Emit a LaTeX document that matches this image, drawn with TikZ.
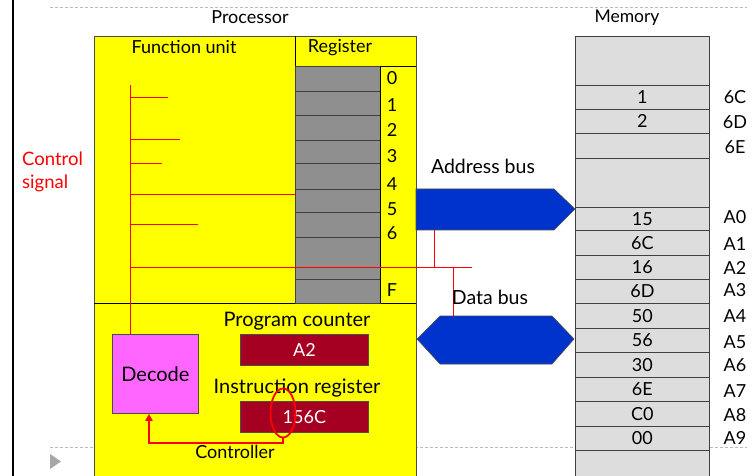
\documentclass[tikz,border=0pt]{standalone}
\usepackage{fontspec}
\setmainfont{Lato}
\usetikzlibrary{arrows.meta,shapes.geometric}
\definecolor{procyellow}{HTML}{FFFF00}
\definecolor{reggray}{HTML}{8F8F8F}
\definecolor{memgray}{HTML}{DDDDDD}
\definecolor{boxred}{HTML}{A50021}
\definecolor{decodepink}{HTML}{FF66FF}
\definecolor{busblue}{HTML}{0033CC}
\definecolor{sigred}{HTML}{FF0000}
\definecolor{rulegray}{HTML}{BBBBBB}
\tikzset{
  lbl/.style={inner sep=0pt, font=\fontsize{18}{20}\selectfont},
  biglbl/.style={inner sep=0pt, font=\fontsize{20}{22}\selectfont},
  regcell/.style={draw=black!75, fill=reggray, line width=0.8pt, inner sep=0pt, anchor=north west, minimum width=85pt},
  memcell/.style={draw=black!75, fill=memgray, line width=0.8pt, inner sep=0pt, anchor=north west, minimum width=134pt, font=\fontsize{18}{20}\selectfont},
  valbox/.style={draw=black!70, fill=boxred, text=white, line width=0.8pt, inner sep=0pt, anchor=north west, minimum width=128pt, minimum height=31pt, font=\fontsize{18}{20}\selectfont},
  sig/.style={draw=sigred, line width=0.9pt},
  ctrl/.style={draw=sigred, line width=2pt, -{Triangle[length=7pt,width=7pt]}},
  bus/.style={fill=busblue, draw=black!70, line width=0.6pt},
  guide/.style={draw=rulegray, line width=0.6pt, dash pattern=on 3pt off 2pt},
}
\begin{document}
\begin{tikzpicture}[x=1pt, y=-1pt]
\useasboundingbox (0,0) rectangle (756,476);
\fill[white] (0,0) rectangle (756,476);

% slide frame: guide lines, left rule and the bullet triangle
\draw[guide] (50,7) -- (747,7);
\draw[guide] (50,447) -- (747,447);
\draw[black, line width=2pt] (13,0) -- (13,476);
\fill[black!35] (50,454) -- (61,461.5) -- (50,469) -- cycle;

% headings
\node[lbl] (proc) at (250,17) {Processor};
\node[lbl, font=\fontsize{17.5}{19}\selectfont] (mem) at (627,17.5) {Memory};

% processor body
\node[draw=black!70, fill=procyellow, line width=0.8pt, inner sep=0pt, anchor=north west,
      minimum width=322pt, minimum height=440pt] (cpu) at (94,36) {};
\draw[black, line width=0.8pt] (295,36) -- (295,66) -- (416,66);
\draw[black, line width=0.8pt] (94,303) -- (416,303);
\node[lbl] (fu) at (184,47) {Function unit};
\node[lbl] (regh) at (340,48) {Register};

% register file
\foreach \top/\h/\nm in {66/25/r0, 91/24/r1, 115/25/r2, 140/23/r3, 163/26/r4, 189/23/r5, 212/25/r6, 237/42/rx, 279/24/rf}
  \node[regcell, minimum height=\h pt] (\nm) at (295,\top) {};
\draw[black, line width=0.8pt] (380,66) -- (380,303);
\foreach \y/\t/\nm in {78/0/l0, 105/1/l1, 130/2/l2, 156/3/l3, 184/4/l4, 209/5/l5, 233/6/l6, 290/F/lf}
  \node[lbl] (\nm) at (392,\y) {\t};

% control signal lines
\node[lbl, text=sigred, align=left, anchor=west, font=\fontsize{18.5}{23}\selectfont] (cs) at (22,172) {Control\\signal};
\coordinate (sTop) at (130,85);
\foreach \y/\x/\nm in {97/168/a, 139/180/b, 163/162/c, 194/295/d, 224/198/e, 267/472/f}{
  \coordinate (s\nm0) at (130,\y);
  \coordinate (s\nm1) at (\x,\y);
  \draw[sig] (s\nm0) -- (s\nm1);
}
\coordinate (abTap) at (434,230);
\coordinate (abJoin) at (434,267);
\coordinate (dbJoin) at (453,267);
\coordinate (dbTap) at (453,316);
\draw[sig] (abTap) -- (abJoin);
\draw[sig] (dbJoin) -- (dbTap);

% controller
\node[draw=black!70, fill=decodepink, line width=0.8pt, inner sep=0pt, anchor=north west,
      minimum width=86pt, minimum height=79pt, font=\fontsize{20}{22}\selectfont] (dec) at (112,334) {Decode};
\draw[sig] (sTop) -- (sTop |- dec.north);
\node[biglbl] (pcl) at (297,321) {Program counter};
\node[valbox] (pc) at (240,334) {A2};
\node[biglbl] (irl) at (297,388) {Instruction register};
\node[valbox] (ir) at (240,401) {156C};
\node[lbl] (ctl) at (235,452) {Controller};
\node[draw=sigred, line width=1.8pt, ellipse, minimum width=25pt, minimum height=49pt, inner sep=0pt] (op) at (283,413) {};
\coordinate (bend1) at (283,443);
\coordinate (bend2) at (149,443);
\draw[ctrl] (op.south) -- (bend1) -- (bend2) -- (bend2 |- dec.south);

% buses
\draw[bus] (416,189) -- (554,189) -- (575,209) -- (554,230) -- (416,230) -- cycle;
\draw[bus] (417,339) -- (440,316) -- (552,316) -- (574,339) -- (552,364) -- (440,364) -- cycle;
\node[lbl, font=\fontsize{19.5}{21}\selectfont] (abl) at (483,166) {Address bus};
\node[lbl, font=\fontsize{19.5}{21}\selectfont] (dbl) at (490,297) {Data bus};

% memory
\foreach \top/\h/\t/\nm in {36/49//m0, 85/24/1/m1, 109/24/2/m2, 133/25//m3, 158/49//m4,
  207/23/15/m5, 230/25/6C/m6, 255/24/16/m7, 279/24/6D/m8, 303/25/50/m9, 328/24/56/m10,
  352/25/30/m11, 377/24/6E/m12, 401/25/C0/m13, 426/24/00/m14, 450/30//m15}
  \node[memcell, minimum height=\h pt] (\nm) at (575,\top) {\t};
\foreach \y/\t/\nm in {97/6C/x1, 122/6D/x2, 147/6E/x3, 217/A0/x4, 244/A1/x5, 268/A2/x6,
  290/A3/x7, 316/A4/x8, 342/A5/x9, 365/A6/x10, 391/A7/x11, 415/A8/x12, 438/A9/x13}
  \node[lbl] (\nm) at (735,\y) {\t};
\end{tikzpicture}
\end{document}
